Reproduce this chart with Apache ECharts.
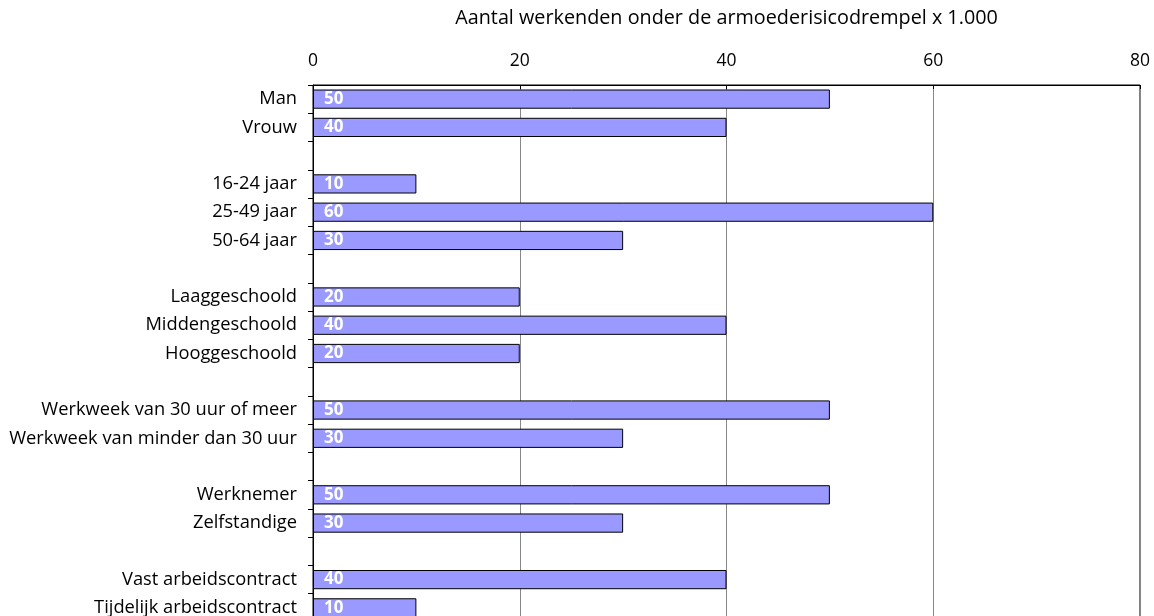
<!DOCTYPE html>
<html>
<head>
<meta charset="utf-8">
<script src="https://cdn.jsdelivr.net/npm/echarts@6/dist/echarts.min.js"></script>
<style>html,body{margin:0;padding:0;background:#fff}#c{width:1154px;height:616px}</style>
</head>
<body>
<div id="c"></div>
<script>
const categories = ['Man','Vrouw','','16-24 jaar','25-49 jaar','50-64 jaar',' ','Laaggeschoold','Middengeschoold','Hooggeschoold','  ','Werkweek van 30 uur of meer','Werkweek van minder dan 30 uur','   ','Werknemer','Zelfstandige','    ','Vast arbeidscontract','Tijdelijk arbeidscontract'];
const values = [50,40,null,10,60,30,null,20,40,20,null,50,30,null,50,30,null,40,10];
const xTicks = [0,20,40,60,80];
const axisTitle = 'Aantal werkenden onder de armoederisicodrempel x 1.000';

const FONT = 'Open Sans';
const chart = echarts.init(document.getElementById('c'), null, {renderer:'canvas'});
chart.setOption({
  animation:false,
  backgroundColor:'#fff',
  grid:{left:313, top:85, width:827, height:537, outerBoundsMode:'none', containLabel:false, show:true, borderColor:'#000', borderWidth:1, backgroundColor:'transparent'},
  xAxis:{
    type:'value', position:'top', min:xTicks[0], max:xTicks[xTicks.length-1], interval:20,
    name:axisTitle, nameLocation:'middle', nameGap:57, nameMoveOverlap:false,
    nameTextStyle:{fontFamily:FONT, fontSize:19.8, color:'#000'},
    axisLine:{show:true, lineStyle:{color:'#000', width:1}},
    axisTick:{show:true, inside:true, length:4, lineStyle:{color:'#000'}},
    axisLabel:{fontFamily:FONT, fontSize:17.5, color:'#000', margin:15},
    splitLine:{show:true, lineStyle:{color:'#888', width:1}}
  },
  yAxis:{
    type:'category', data:categories, inverse:true,
    axisLine:{show:true, lineStyle:{color:'#000', width:1}},
    axisTick:{show:true, length:5, lineStyle:{color:'#000'}},
    axisLabel:{fontFamily:FONT, fontSize:18.3, color:'#000', margin:16},
    splitLine:{show:false}
  },
  series:[{
    type:'bar', data:values, barCategoryGap:'32%',
    itemStyle:{color:'#9999FF', borderColor:'#000', borderWidth:1},
    label:{show:true, position:'insideLeft', distance:11, color:'#fff', fontWeight:'bold', fontFamily:FONT, fontSize:17},
    emphasis:{disabled:true}
  }]
});
</script>
</body>
</html>
